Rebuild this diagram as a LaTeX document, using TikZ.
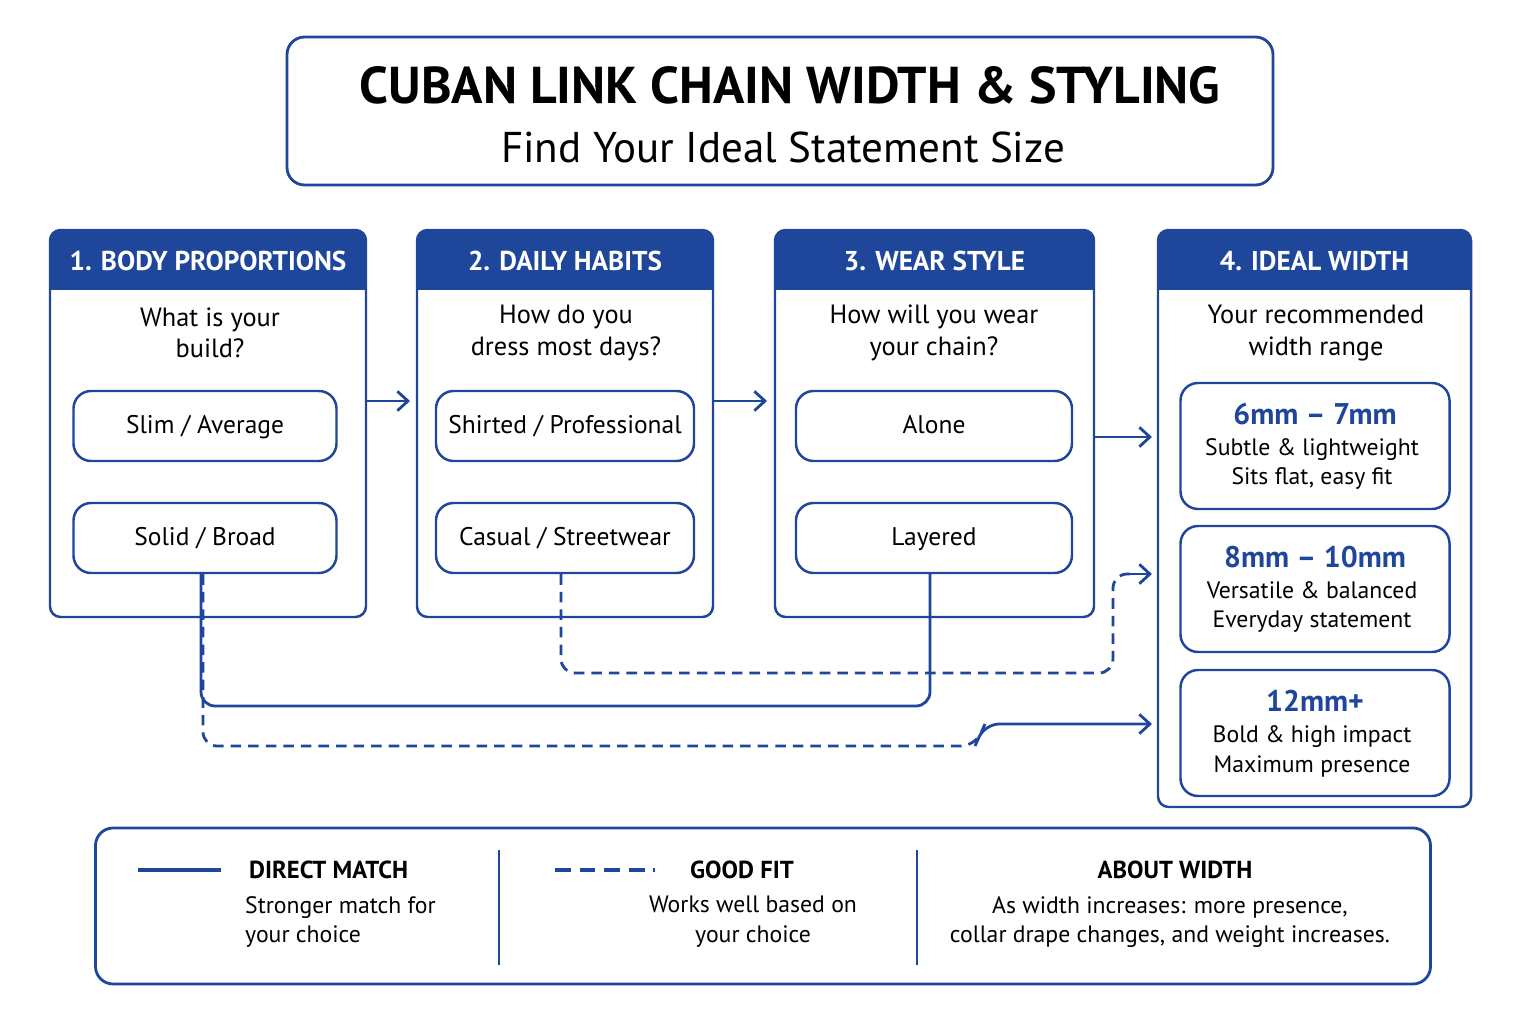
\documentclass[tikz,border=0pt]{standalone}
\usepackage{fontspec}
\setmainfont{PT Sans}
\usetikzlibrary{arrows.meta,positioning,calc}
\definecolor{navy}{RGB}{30,70,155}
\tikzset{
  col/.style={draw=navy, line width=1.4pt, rounded corners=6pt, inner sep=0pt},
  head/.style={text=white, font=\bfseries\fontsize{15.5}{18}\selectfont},
  ask/.style={align=center, font=\fontsize{15}{18}\selectfont},
  opt/.style={draw=navy, line width=1.4pt, rounded corners=10pt, minimum height=70*0.02cm, text depth=0pt, text height=9pt, font=\fontsize{14.5}{17}\selectfont},
  res/.style={draw=navy, line width=1.4pt, rounded corners=10pt, minimum width=269*0.02cm, minimum height=126*0.02cm},
  link/.style={navy, line width=1.6pt, rounded corners=8pt},
  fit/.style={link, dash pattern=on 6pt off 4pt},
  go/.style={navy, line width=1.6pt, -{Straight Barb[length=6pt,width=11pt]}},
  small/.style={font=\fontsize{13.5}{17}\selectfont, align=center}
}
\begin{document}
\begin{tikzpicture}[x=0.02cm, y=-0.02cm]
\useasboundingbox (0,0) rectangle (1524,1023);

% title
\node[draw=navy, line width=1.6pt, rounded corners=10pt, minimum width=986*0.02cm, minimum height=148*0.02cm] (title) at (780,111) {};
\node[font=\bfseries\fontsize{29.5}{32}\selectfont] (ttl) at (790,85) {CUBAN LINK CHAIN WIDTH \& STYLING};
\node[font=\fontsize{24.5}{28}\selectfont] (sub) at (783,147) {Find Your Ideal Statement Size};

% columns
\foreach \n/\xa/\xb/\yb/\t in {c1/50/366/617/1. BODY PROPORTIONS, c2/417/713/617/2. DAILY HABITS, c3/775/1094/617/3. WEAR STYLE, c4/1158/1471/807/4. IDEAL WIDTH}{
  \fill[navy, rounded corners=6pt] (\xa,230) rectangle (\xb,290);
  \fill[navy] (\xa,260) rectangle (\xb,290);
  \draw[col] (\xa,230) rectangle (\xb,\yb);
  \coordinate (\n) at ({(\xa+\xb)/2},261);
  \node[head] at (\n) {\t};
}
\node[ask] (q1) at (210,333) {What is your\\build?};
\node[ask] (q2) at (566,333) {How do you\\dress most days?};
\node[ask] (q3) at (934,333) {How will you wear\\your chain?};
\node[ask] (q4) at (1316,333) {Your recommended\\width range};

% options
\node[opt, minimum width=263*0.02cm] (slim) at (205,426) {Slim / Average};
\node[opt, minimum width=263*0.02cm] (solid) at (205,538) {Solid / Broad};
\node[opt, minimum width=258*0.02cm] (shirt) at (565,426) {Shirted / Professional};
\node[opt, minimum width=258*0.02cm] (casual) at (565,538) {Casual / Streetwear};
\node[opt, minimum width=276*0.02cm] (alone) at (934,426) {Alone};
\node[opt, minimum width=276*0.02cm] (layer) at (934,538) {Layered};

% results
\node[res] (r1) at (1315,446) {};
\node[res] (r2) at (1315,589) {};
\node[res] (r3) at (1315,733) {};
\foreach \r/\w/\a/\b in {r1/6mm -- 7mm/Subtle \& lightweight/{Sits flat, easy fit}, r2/8mm -- 10mm/Versatile \& balanced/Everyday statement, r3/12mm+/Bold \& high impact/Maximum presence}{
  \node[text=navy, font=\bfseries\fontsize{17}{20}\selectfont] at ($(\r)+(0,-32)$) {\w};
  \node[small] at ($(\r)+(-3,18)$) {\a\\\b};
}

% flow arrows
\draw[go] (366,401) -- (410,401);
\draw[go] (713,401) -- (767,401);
\draw[go] (1094,437) -- (1152,437);

% connectors
\draw[link] (solid.south -| 201,0) -- (201,706) -- (930,706) -- (layer.south -| 930,0);
\draw[fit] (casual.south -| 561,0) -- (561,673) -- (1113,673) -- (1113,574) -- (1130,574);
\draw[go] (1130,574) -- (1152,574);
\draw[fit] (solid.south -| 203,0) -- (203,746) -- (975,746) -- (985,724);
\draw[go, rounded corners=8pt] (975,746) -- (985,724) -- (1152,724);

% legend
\node[draw=navy, line width=1.6pt, rounded corners=10pt, minimum width=1335*0.02cm, minimum height=156*0.02cm] (leg) at (763,906) {};
\draw[navy, line width=1pt] (499,850) -- (499,965) (917,850) -- (917,965);
\draw[navy, line width=2pt] (138,870) -- (221,870);
\draw[navy, line width=2pt, dash pattern=on 9pt off 5pt] (555,870) -- (655,870);
\node[anchor=west, font=\bfseries\fontsize{14}{17}\selectfont] (dm) at (243,870) {DIRECT MATCH};
\node[anchor=north west, small, align=left] at (239,890) {Stronger match for\\your choice};
\node[font=\bfseries\fontsize{14}{17}\selectfont] (gf) at (742,870) {GOOD FIT};
\node[small, anchor=north] at (753,890) {Works well based on\\your choice};
\node[font=\bfseries\fontsize{14}{17}\selectfont] (aw) at (1175,870) {ABOUT WIDTH};
\node[small, anchor=north] at (1170,890) {As width increases: more presence,\\collar drape changes, and weight increases.};
\end{tikzpicture}
\end{document}
